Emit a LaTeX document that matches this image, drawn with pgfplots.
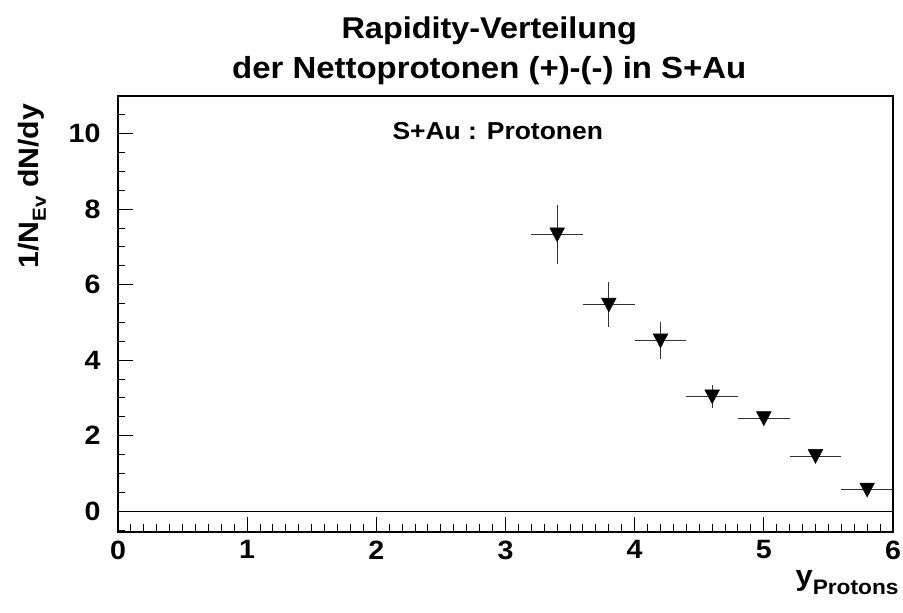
\documentclass[border=0pt]{standalone}
\usepackage{pgfplots}
\pgfplotsset{compat=1.18}
\usepackage{fontspec}
\setmainfont{Liberation Sans}[FakeStretch=1.08]
\newcommand{\fs}[1]{\fontsize{#1}{#1}\selectfont\bfseries}

\begin{document}
\begin{tikzpicture}
  \useasboundingbox (-118pt,-81pt) rectangle (785pt,532pt);
  \begin{axis}[
      scale only axis,
      width=775pt, height=436pt,
      xmin=0, xmax=6,
      ymin=-0.55, ymax=11,
      clip=false,
      axis line style={line width=1.2pt},
      xtick={0,1,...,6},
      ytick={0,2,...,10},
      minor xtick={0,0.1,...,6},
      minor ytick={-0.5,0,...,10.5},
      xtick pos=left, ytick pos=left,
      tick align=inside,
      major tick length=15pt,
      minor tick length=7.5pt,
      every tick/.style={line width=1pt, black},
      tick label style={font=\fs{26.5}},
      /pgf/number format/assume math mode=true,
      xticklabel style={yshift=-5pt},
      yticklabel style={xshift=-14pt},
    ]
    % zero line
    \addplot[black, line width=1pt] coordinates {(0,0) (6,0)};

    % net protons, S+Au
    \addplot[
        only marks,
        mark=triangle*,
        mark size=8.5pt,
        mark options={yshift=2pt, rotate=180, yscale=1.1, fill=black, draw=black},
        error bars/.cd,
          x dir=both, x explicit,
          y dir=both, y explicit,
          error mark=none,
          error bar style={line width=1pt, black!80},
      ] coordinates {
        (3.4,7.33) +- (0.2,0.78)
        (3.8,5.47) +- (0.2,0.60)
        (4.2,4.52) +- (0.2,0.48)
        (4.6,3.04) +- (0.2,0.30)
        (5.0,2.46) +- (0.2,0.15)
        (5.4,1.46) +- (0.2,0.10)
        (5.8,0.57) +- (0.2,0.10)
      };

    \node[anchor=base, font=\fs{30}]
      at ([yshift=57pt]rel axis cs:0.479,1) {Rapidity-Verteilung};
    \node[anchor=base, font=\fs{30.5}]
      at ([yshift=17pt]rel axis cs:0.479,1) {der Nettoprotonen (+)-(-) in S+Au};
    \node[anchor=base, font=\fs{24.5}]
      at (rel axis cs:0.490,0.901) {S+Au : Protonen};
    \node[anchor=base east, font=\fs{28.5}]
      at ([xshift=9pt, yshift=-54pt]rel axis cs:1,0)
      {y\raisebox{-9pt}{\fs{21}Protons}};
    \node[anchor=base east, rotate=90, font=\fs{28}]
      at ([xshift=-79pt]rel axis cs:0,0.99)
      {1/N\raisebox{-7pt}{\fs{19}Ev} dN/dy};
  \end{axis}
\end{tikzpicture}
\end{document}
